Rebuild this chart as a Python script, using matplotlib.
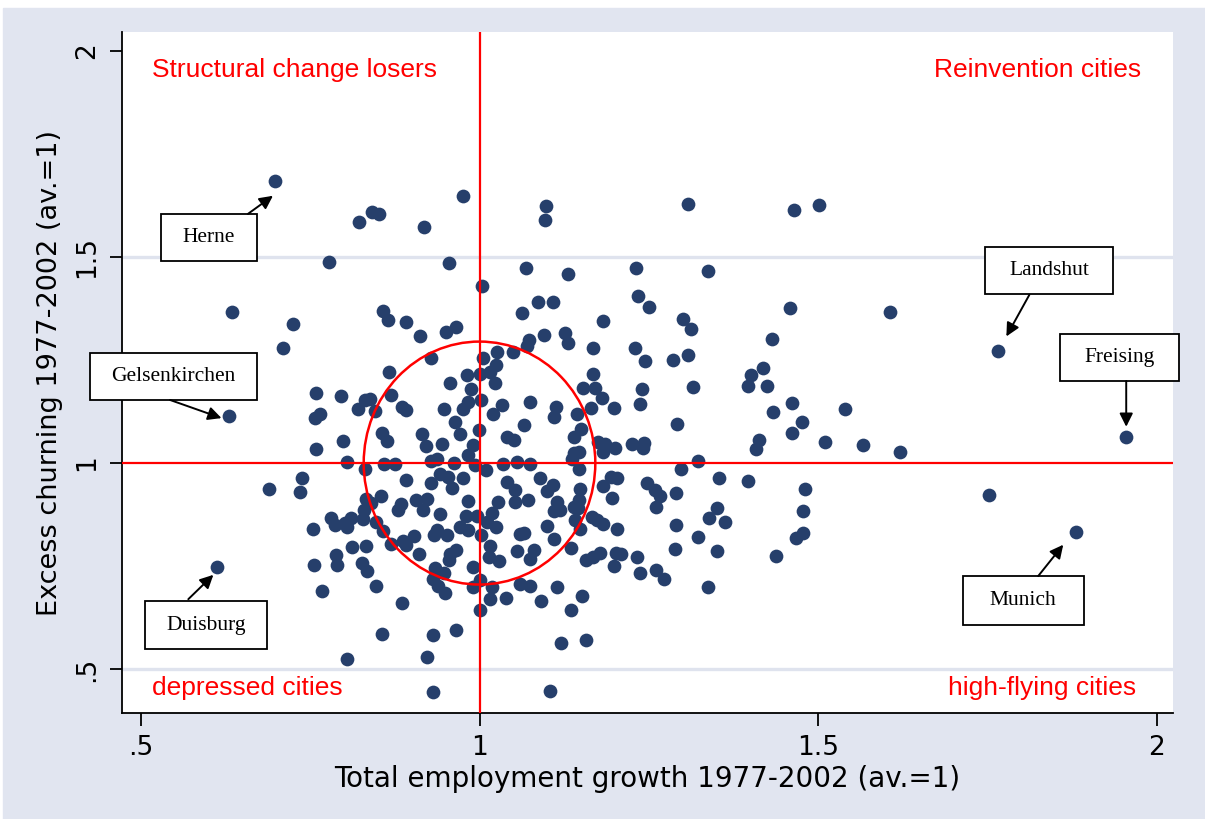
"""
Excess churning vs. total employment growth, German cities 1977-2002.
Stata-style scatter with quadrant labels and a few named cities.
"""

import matplotlib
matplotlib.use("Agg")
import matplotlib.pyplot as plt
from matplotlib.patches import Ellipse, Rectangle

BG = "#e1e5f0"
DOT = "#263f6b"
GRID = "#dfe3ee"

# labelled cities (growth, churning)
CITIES = ["Herne", "Gelsenkirchen", "Duisburg", "Landshut", "Freising", "Munich"]
city_growth = [0.698, 0.630, 0.612, 1.765, 1.954, 1.881]
city_churn = [1.683, 1.114, 0.748, 1.271, 1.062, 0.833]

# all other cities
growth = [
    1.753, 1.621, 0.976, 1.098, 1.096, 1.308, 0.822, 0.841, 0.852, 0.918,
    0.778, 0.955, 1.068, 1.131, 1.231, 1.465, 1.502, 1.337, 1.458, 1.606,
    1.301, 1.313, 1.432, 1.308, 1.419, 1.401, 0.634, 0.725, 0.710, 0.689,
    1.004, 0.857, 0.865, 0.891, 0.912, 0.950, 0.965, 0.928, 0.867, 0.957,
    0.981, 1.001, 0.987, 0.758, 0.795, 0.831, 0.839, 0.870, 0.983, 1.002,
    0.764, 0.757, 0.820, 0.845, 0.885, 0.892, 0.947, 0.975, 0.964, 0.971,
    0.999, 0.856, 0.863, 0.915, 0.921, 0.945, 0.991, 0.798, 0.758, 0.983,
    0.804, 0.859, 0.875, 0.929, 0.937, 0.963, 0.993, 1.005, 1.234, 1.251,
    1.087, 1.109, 1.063, 1.182, 1.095, 1.126, 1.131, 1.073, 1.070, 1.050,
    1.026, 1.168, 1.230, 1.244, 1.285, 1.024, 1.016, 1.023, 1.168, 1.153,
    1.170, 1.181, 1.240, 1.237, 1.033, 1.020, 1.074, 1.113, 1.110, 1.144,
    1.165, 1.198, 1.065, 1.040, 1.051, 1.150, 1.139, 1.292, 1.175, 1.185,
    1.200, 1.183, 1.225, 1.243, 1.242, 1.139, 1.147, 1.136, 1.035, 1.055,
    1.075, 0.831, 0.738, 0.735, 0.891, 0.929, 0.942, 0.954, 0.959, 0.975,
    0.855, 0.832, 0.840, 0.884, 0.879, 0.906, 0.922, 0.916, 0.983, 0.941,
    0.980, 0.996, 0.829, 0.828, 0.810, 0.801, 0.805, 0.781, 0.786, 0.754,
    0.847, 0.858, 0.937, 0.933, 0.952, 0.971, 0.983, 1.002, 0.904, 0.887,
    0.892, 0.869, 0.811, 0.832, 0.910, 0.966, 0.956, 0.955, 0.788, 0.789,
    0.755, 0.826, 0.834, 0.934, 0.947, 0.990, 0.932, 0.939, 0.949, 0.991,
    1.001, 0.767, 0.847, 0.886, 0.856, 0.931, 0.965, 0.805, 0.922, 0.932,
    1.001, 1.010, 1.147, 1.298, 1.041, 1.052, 1.089, 1.109, 1.099, 1.148,
    1.183, 1.194, 1.203, 1.195, 1.247, 1.259, 1.267, 1.290, 1.260, 1.028,
    1.052, 1.072, 1.114, 1.110, 1.119, 1.139, 1.147, 1.146, 1.018, 1.011,
    1.025, 1.060, 1.065, 1.099, 1.141, 1.148, 1.166, 1.173, 1.183, 1.203,
    1.290, 1.110, 1.016, 1.055, 1.081, 1.074, 1.014, 1.029, 1.135, 1.158,
    1.168, 1.178, 1.202, 1.209, 1.198, 1.233, 1.237, 1.261, 1.273, 1.289,
    1.018, 1.060, 1.075, 1.114, 1.016, 1.039, 1.091, 1.152, 1.135, 1.121,
    1.158, 1.104, 1.316, 1.396, 1.425, 1.462, 1.433, 1.540, 1.476, 1.461,
    1.510, 1.566, 1.413, 1.409, 1.322, 1.354, 1.396, 1.481, 1.477, 1.350,
    1.339, 1.362, 1.323, 1.350, 1.438, 1.468, 1.477, 1.338,
]
churn = [
    0.922, 1.028, 1.648, 1.623, 1.589, 1.628, 1.585, 1.609, 1.603, 1.573,
    1.488, 1.485, 1.472, 1.458, 1.474, 1.613, 1.625, 1.465, 1.377, 1.367,
    1.349, 1.324, 1.301, 1.262, 1.230, 1.213, 1.366, 1.336, 1.278, 0.938,
    1.429, 1.369, 1.347, 1.342, 1.308, 1.318, 1.330, 1.254, 1.221, 1.195,
    1.213, 1.217, 1.179, 1.170, 1.162, 1.154, 1.155, 1.166, 1.147, 1.153,
    1.120, 1.110, 1.131, 1.127, 1.136, 1.128, 1.131, 1.130, 1.099, 1.070,
    1.080, 1.074, 1.053, 1.070, 1.041, 1.046, 1.044, 1.053, 1.033, 1.019,
    1.002, 0.998, 0.998, 1.004, 1.010, 1.000, 0.995, 1.254, 1.405, 1.379,
    1.390, 1.391, 1.365, 1.345, 1.310, 1.316, 1.290, 1.298, 1.284, 1.270,
    1.270, 1.280, 1.278, 1.248, 1.250, 1.238, 1.221, 1.193, 1.217, 1.181,
    1.183, 1.158, 1.179, 1.143, 1.141, 1.120, 1.149, 1.136, 1.112, 1.119,
    1.133, 1.133, 1.092, 1.064, 1.056, 1.082, 1.064, 1.095, 1.052, 1.046,
    1.036, 1.027, 1.046, 1.049, 1.036, 1.024, 1.027, 1.011, 0.998, 1.002,
    0.998, 0.985, 0.963, 0.930, 0.959, 0.952, 0.973, 0.967, 0.939, 0.963,
    0.920, 0.912, 0.904, 0.901, 0.886, 0.910, 0.912, 0.886, 0.909, 0.876,
    0.872, 0.872, 0.886, 0.864, 0.867, 0.855, 0.846, 0.866, 0.850, 0.840,
    0.858, 0.835, 0.838, 0.825, 0.825, 0.844, 0.838, 0.825, 0.823, 0.812,
    0.801, 0.804, 0.797, 0.800, 0.779, 0.789, 0.779, 0.765, 0.777, 0.753,
    0.753, 0.758, 0.738, 0.746, 0.734, 0.747, 0.718, 0.702, 0.684, 0.700,
    0.716, 0.690, 0.702, 0.660, 0.585, 0.583, 0.595, 0.524, 0.531, 0.444,
    0.644, 0.983, 0.985, 0.985, 0.953, 0.935, 0.963, 0.948, 0.932, 0.936,
    0.945, 0.967, 0.963, 0.916, 0.952, 0.935, 0.920, 0.927, 0.893, 0.905,
    0.906, 0.910, 0.906, 0.884, 0.886, 0.894, 0.910, 0.890, 0.878, 0.858,
    0.846, 0.828, 0.831, 0.847, 0.862, 0.840, 0.870, 0.862, 0.852, 0.840,
    0.850, 0.815, 0.799, 0.787, 0.789, 0.767, 0.773, 0.762, 0.793, 0.765,
    0.773, 0.783, 0.781, 0.779, 0.750, 0.773, 0.733, 0.741, 0.719, 0.792,
    0.700, 0.708, 0.703, 0.700, 0.670, 0.674, 0.666, 0.678, 0.644, 0.564,
    0.571, 0.448, 1.185, 1.187, 1.187, 1.145, 1.125, 1.130, 1.099, 1.073,
    1.050, 1.044, 1.056, 1.033, 1.004, 0.964, 0.957, 0.936, 0.884, 0.892,
    0.867, 0.858, 0.821, 0.787, 0.775, 0.818, 0.830, 0.700,
]

# label boxes: centre x, centre y, width, height (data units)
BOXES = {
    "Herne":         (0.600, 1.547, 0.142, 0.116),
    "Gelsenkirchen": (0.548, 1.210, 0.247, 0.114),
    "Duisburg":      (0.596, 0.607, 0.180, 0.116),
    "Landshut":      (1.841, 1.467, 0.189, 0.116),
    "Freising":      (1.945, 1.255, 0.177, 0.114),
    "Munich":        (1.803, 0.667, 0.179, 0.119),
}
# arrow tail -> head
ARROWS = {
    "Herne":         ((0.658, 1.604), (0.695, 1.648)),
    "Gelsenkirchen": ((0.543, 1.153), (0.619, 1.109)),
    "Duisburg":      ((0.570, 0.670), (0.607, 0.729)),
    "Landshut":      ((1.812, 1.408), (1.778, 1.307)),
    "Freising":      ((1.955, 1.199), (1.955, 1.088)),
    "Munich":        ((1.825, 0.726), (1.862, 0.802)),
}

QUADRANTS = [
    ("Structural change losers", 0.516, 1.952, "left"),
    ("Reinvention cities", 1.977, 1.952, "right"),
    ("depressed cities", 0.516, 0.455, "left"),
    ("high-flying cities", 1.970, 0.455, "right"),
]

plt.rcParams["font.family"] = "DejaVu Sans"

fig = plt.figure(figsize=(12.05, 8.19), dpi=100)
fig.patch.set_facecolor("white")
fig.patches.append(Rectangle((3 / 1205, 0), 1, 1 - 8 / 819,
                             transform=fig.transFigure, color=BG, zorder=-10))

ax = fig.add_axes([0.1012, 0.1294, 0.8722, 0.8315])
ax.set_facecolor("white")
ax.set_xlim(0.472, 2.024)
ax.set_ylim(0.394, 2.045)

for side in ("top", "right"):
    ax.spines[side].set_visible(False)
for side in ("left", "bottom"):
    ax.spines[side].set_linewidth(1.3)

for g in (0.5, 1.5):
    ax.axhline(g, color=GRID, linewidth=2.4, zorder=0)

ax.scatter(growth + city_growth, churn + city_churn, s=98, color=DOT,
           linewidths=0, zorder=2)

ax.axvline(1, color="red", linewidth=1.6, zorder=3)
ax.axhline(1, color="red", linewidth=1.6, zorder=3)
ax.add_patch(Ellipse((1, 1), 0.342, 0.589, fill=False, edgecolor="red",
                     linewidth=1.8, zorder=3))

for txt, x, y, ha in QUADRANTS:
    ax.text(x, y, txt, color="red", fontsize=19, ha=ha, va="center",
            family="Liberation Sans", zorder=4)

for name in CITIES:
    cx, cy, w, h = BOXES[name]
    ax.add_patch(Rectangle((cx - w / 2, cy - h / 2), w, h, facecolor="white",
                           edgecolor="black", linewidth=1.3, zorder=5,
                           clip_on=False))
    ax.text(cx, cy, name, fontsize=15.5, family="Liberation Serif",
            ha="center", va="center", zorder=6, clip_on=False)
    tail, head = ARROWS[name]
    ax.annotate("", xy=head, xytext=tail, zorder=6,
                arrowprops=dict(arrowstyle="-|>", color="black", lw=1.4,
                                mutation_scale=20, shrinkA=0, shrinkB=0))

ticks = [0.5, 1, 1.5, 2]
tick_labels = [".5", "1", "1.5", "2"]
ax.set_xticks(ticks)
ax.set_xticklabels(tick_labels)
ax.set_yticks(ticks)
ax.set_yticklabels(tick_labels, rotation=90, va="center")
ax.tick_params(direction="out", length=9, width=1.3, labelsize=19, pad=7)

ax.set_xlabel("Total employment growth 1977-2002 (av.=1)", fontsize=20,
              labelpad=3)
ax.set_ylabel("Excess churning 1977-2002 (av.=1)", fontsize=19.5,
              labelpad=8)

fig.savefig("out.png", dpi=100, facecolor=fig.get_facecolor())
